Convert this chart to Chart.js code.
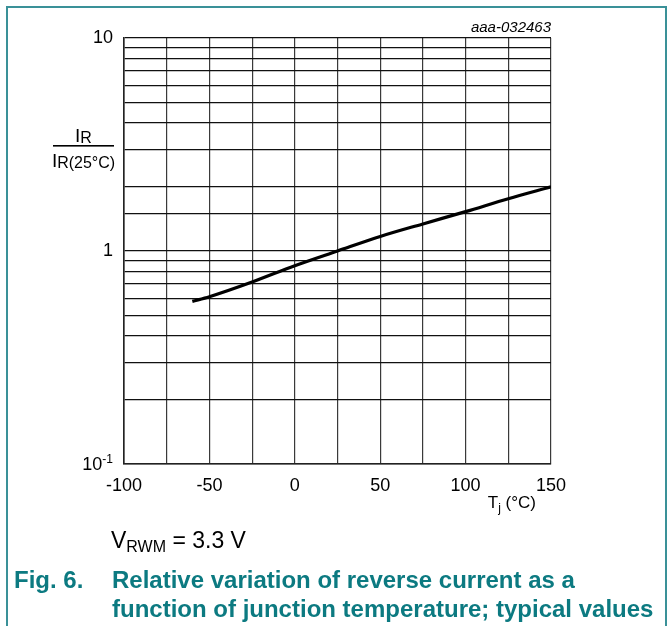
<!DOCTYPE html>
<html>
<head>
<meta charset="utf-8">
<script src="https://cdn.jsdelivr.net/npm/chart.js@4.4.1/dist/chart.umd.min.js"></script>
<style>
  html, body { margin: 0; padding: 0; background: #fff; }
  #wrap { position: relative; width: 670px; height: 626px; overflow: hidden; }
  #frame {
    position: absolute; left: 6px; top: 6px; width: 661px; height: 640px;
    border: 2px solid #3a9198; border-bottom: none; box-sizing: border-box;
  }
  canvas { position: absolute; left: 0; top: 0; }
</style>
</head>
<body>
<div id="wrap">
  <div id="frame"></div>
  <canvas id="fig6" width="670" height="626"></canvas>
</div>
<script>
// junction temperature (°C) and relative reverse current IR / IR(25°C)
var temps = [-60, -50, -25, 0, 25, 50, 75, 100, 125, 150];
var ratio = [0.58, 0.61, 0.715, 0.853, 1.0, 1.17, 1.34, 1.53, 1.76, 2.0];
var xTickLabels = [-100, -50, 0, 50, 100, 150];
var yTickLabels = [10, 1];

var FONT = '"Liberation Sans", Arial, Helvetica, sans-serif';
var TEAL = "#0c7a81";

// draw a row of text pieces: [text, size, bold, dy, italic]
function runs(ctx, x, y, parts, align) {
  var total = 0, i, p;
  for (i = 0; i < parts.length; i++) {
    p = parts[i];
    ctx.font = (p[2] ? "bold " : "") + (p[4] ? "italic " : "") + p[1] + "px " + FONT;
    p.w = ctx.measureText(p[0]).width;
    total += p.w;
  }
  if (align === "center") x -= total / 2;
  else if (align === "right") x -= total;
  for (i = 0; i < parts.length; i++) {
    p = parts[i];
    ctx.font = (p[2] ? "bold " : "") + (p[4] ? "italic " : "") + p[1] + "px " + FONT;
    ctx.fillText(p[0], x, y + (p[3] || 0));
    x += p.w;
  }
}

var annotations = {
  id: "annotations",
  afterDraw: function (chart) {
    var ctx = chart.ctx,
      ys = chart.scales.y,
      xs = chart.scales.x,
      area = chart.chartArea;
    ctx.save();
    ctx.fillStyle = "#000";
    ctx.textBaseline = "alphabetic";
    ctx.textAlign = "left";

    // 10^-1 tick label
    var py = ys.getPixelForValue(0.1);
    runs(ctx, area.left - 11, py + 6, [["10", 18], ["-1", 12, false, -7]], "right");

    // y axis title as fraction
    var cx = 83.5;
    runs(ctx, cx, 141.5, [["I", 19], ["R", 16, false, 1]], "center");
    ctx.fillRect(53, 145, 61, 1.6);
    runs(ctx, cx, 166.5, [["I", 19], ["R(25\u00b0C)", 16, false, 1]], "center");

    // x axis title
    runs(ctx, xs.getPixelForValue(150) - 15, 508, [["T", 17], ["j", 12, false, 4], [" (\u00b0C)", 17]], "right");

    // figure id
    runs(ctx, area.right, 32, [["aaa-032463", 15, false, 0, true]], "right");

    // condition
    runs(ctx, 111, 547.5, [["V", 23], ["RWM", 16, false, 4], [" = 3.3 V", 23]], "left");

    // caption
    ctx.fillStyle = TEAL;
    runs(ctx, 14, 588, [["Fig. 6.", 24, true]], "left");
    runs(ctx, 112, 588, [["Relative variation of reverse current as a", 24, true]], "left");
    runs(ctx, 112, 617, [["function of junction temperature; typical values", 24, true]], "left");
    ctx.restore();
  }
};

var points = temps.map(function (t, i) { return { x: t, y: ratio[i] }; });

new Chart(document.getElementById("fig6").getContext("2d"), {
  type: "line",
  data: {
    datasets: [{
      data: points,
      borderColor: "#000",
      borderWidth: 3.2,
      pointRadius: 0,
      fill: false,
      cubicInterpolationMode: "monotone"
    }]
  },
  options: {
    responsive: false,
    animation: false,
    devicePixelRatio: 1,
    layout: { padding: { left: 0, top: 38, right: 119, bottom: 132 } },
    plugins: { legend: { display: false }, tooltip: { enabled: false } },
    scales: {
      x: {
        type: "linear",
        min: -100,
        max: 150,
        afterFit: function (s) { s.height = 30; },
        grid: { color: "#3a3a3a", lineWidth: 1.2, drawTicks: false },
        border: { color: "#222", width: 1.6 },
        ticks: {
          stepSize: 25,
          autoSkip: false,
          maxRotation: 0,
          padding: 11,
          color: "#000",
          font: { family: FONT, size: 18 },
          callback: function (v) { return xTickLabels.indexOf(v) >= 0 ? String(v) : ""; }
        }
      },
      y: {
        type: "logarithmic",
        min: 0.1,
        max: 10,
        afterFit: function (s) { s.width = 124; },
        grid: { color: "#111", lineWidth: 1.2, drawTicks: false },
        border: { color: "#222", width: 1.6 },
        ticks: {
          autoSkip: false,
          padding: 11,
          color: "#000",
          font: { family: FONT, size: 18 },
          callback: function (v) {
            for (var i = 0; i < yTickLabels.length; i++) {
              if (Math.abs(v - yTickLabels[i]) < 1e-9) return String(yTickLabels[i]);
            }
            return "";
          }
        }
      }
    }
  },
  plugins: [annotations]
});
</script>
</body>
</html>
